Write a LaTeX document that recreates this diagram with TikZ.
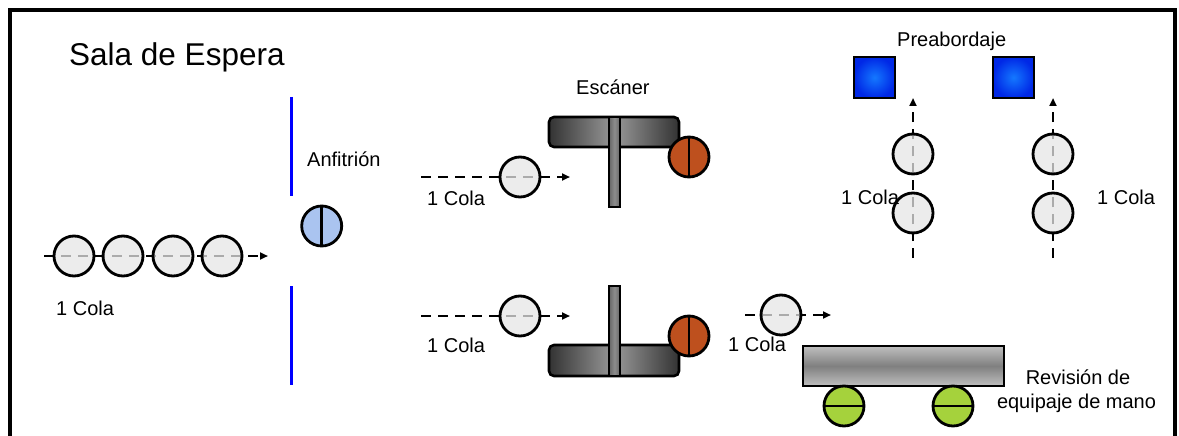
\documentclass[tikz,border=0pt]{standalone}
\usepackage{fontspec}
\setmainfont{Liberation Sans}
\usetikzlibrary{arrows.meta}
\definecolor{hostblue}{RGB}{170,196,240}
\definecolor{scanorange}{RGB}{190,80,30}
\definecolor{bagsgreen}{RGB}{165,210,60}
\definecolor{sqin}{RGB}{20,120,255}
\definecolor{sqout}{RGB}{0,40,230}
\begin{document}
\begin{tikzpicture}[x=1pt,y=-1pt,
  person/.style={circle, draw, line width=2.8pt, minimum size=40pt, inner sep=0pt, fill=gray!20, fill opacity=0.75},
  worker/.style={circle, draw, line width=2.8pt, minimum size=40pt, inner sep=0pt},
  queue/.style={line width=2.6pt, dash pattern=on 10pt off 7pt, -{Triangle[length=8pt,width=7pt]}},
  lbl/.style={font=\fontsize{20}{24}\selectfont, inner sep=0pt, anchor=base west},
  bar/.style={draw, line width=2.6pt, rounded corners=5pt, inner sep=0pt, left color=black!80, right color=black!80, middle color=black!40},
  post/.style={draw, line width=2.4pt, inner sep=0pt, minimum width=11pt, minimum height=90pt, left color=black!60, right color=black!60, middle color=black!45},
  sq/.style={draw, line width=2.6pt, inner sep=0pt, minimum size=41pt, inner color=sqin, outer color=sqout},
  wall/.style={blue, line width=2.4pt}
]
\useasboundingbox (0,0) rectangle (1179,436);
% frame
\draw[line width=3.5pt] (10,440) -- (10,10) -- (1175,10) -- (1175,440);

% title
\node[font=\fontsize{31.5}{36}\selectfont, inner sep=0pt, anchor=base west] (title) at (69,66) {Sala de Espera};

% left queue
\coordinate (q0s) at (44,256);
\coordinate (q0e) at (268,256);
\draw[queue] (q0s) -- (q0e);
\node[person] (p1) at (74,256) {};
\node[person] (p2) at (123,256) {};
\node[person] (p3) at (173,256) {};
\node[person] (p4) at (222,256) {};
\node[lbl] (c0) at (56,315) {1 Cola};

% host walls
\draw[wall] (291.5,97) -- (291.5,196);
\draw[wall] (291.5,286) -- (291.5,385);
\node[lbl] (anf) at (307,166) {Anfitrión};
\node[worker, fill=hostblue] (host) at (321.7,226) {};
\draw[line width=2.6pt] (host.north) -- (host.south);

% scanner top
\node[lbl] (esc) at (576,95) {Escáner};
\coordinate (q1s) at (421,177);
\coordinate (q1e) at (570,177);
\draw[queue] (q1s) -- (q1e);
\node[person] (p5) at (520,177) {};
\node[lbl] (c1) at (427,205) {1 Cola};
\node[bar, minimum width=130pt, minimum height=30pt] (bar1) at (614,132) {};
\node[post] (post1) at (614.5,162) {};
\node[worker, fill=scanorange] (s1) at (689,157) {};
\draw[line width=2.6pt] (s1.north) -- (s1.south);

% scanner bottom
\coordinate (q2s) at (421,316);
\coordinate (q2e) at (570,316);
\draw[queue] (q2s) -- (q2e);
\node[person] (p6) at (520,316) {};
\node[lbl] (c2) at (427,352) {1 Cola};
\node[bar, minimum width=130pt, minimum height=31pt] (bar2) at (614,360.5) {};
\node[post] (post2) at (614.5,331) {};
\node[worker, fill=scanorange] (s2) at (689,336) {};
\draw[line width=2.6pt] (s2.north) -- (s2.south);

% hand luggage
\coordinate (q3s) at (745,315);
\coordinate (q3e) at (831,315);
\draw[queue] (q3s) -- (q3e);
\node[person] (p7) at (781,315) {};
\node[lbl] (c3) at (728,351) {1 Cola};
\node[draw, line width=2.6pt, inner sep=0pt, minimum width=201pt, minimum height=40pt, top color=black!25, bottom color=black!25, middle color=black!50] (table) at (903.5,366) {};
\node[worker, fill=bagsgreen] (g1) at (844,406) {};
\draw[line width=2.6pt] (g1.west) -- (g1.east);
\node[worker, fill=bagsgreen] (g2) at (953,406) {};
\draw[line width=2.6pt] (g2.west) -- (g2.east);
\node[font=\fontsize{20}{24}\selectfont, inner sep=0pt, anchor=base] (rev1) at (1078,384) {Revisión de};
\node[font=\fontsize{20}{24}\selectfont, inner sep=0pt, anchor=base] (rev2) at (1076.5,408) {equipaje de mano};

% preboarding
\node[lbl] (pre) at (897,47) {Preabordaje};
\node[sq] (sq1) at (874.5,77.5) {};
\node[sq] (sq2) at (1013.5,77.5) {};
\coordinate (q4s) at (913,258);
\coordinate (q4e) at (913,98);
\draw[queue] (q4s) -- (q4e);
\coordinate (q5s) at (1053,258);
\coordinate (q5e) at (1053,98);
\draw[queue] (q5s) -- (q5e);
\node[person] (p8) at (913,154) {};
\node[person] (p9) at (913,213) {};
\node[person] (p10) at (1053,154) {};
\node[person] (p11) at (1053,213) {};
\node[lbl] (c4) at (841,204) {1 Cola};
\node[lbl] (c5) at (1097,204) {1 Cola};
\end{tikzpicture}
\end{document}
